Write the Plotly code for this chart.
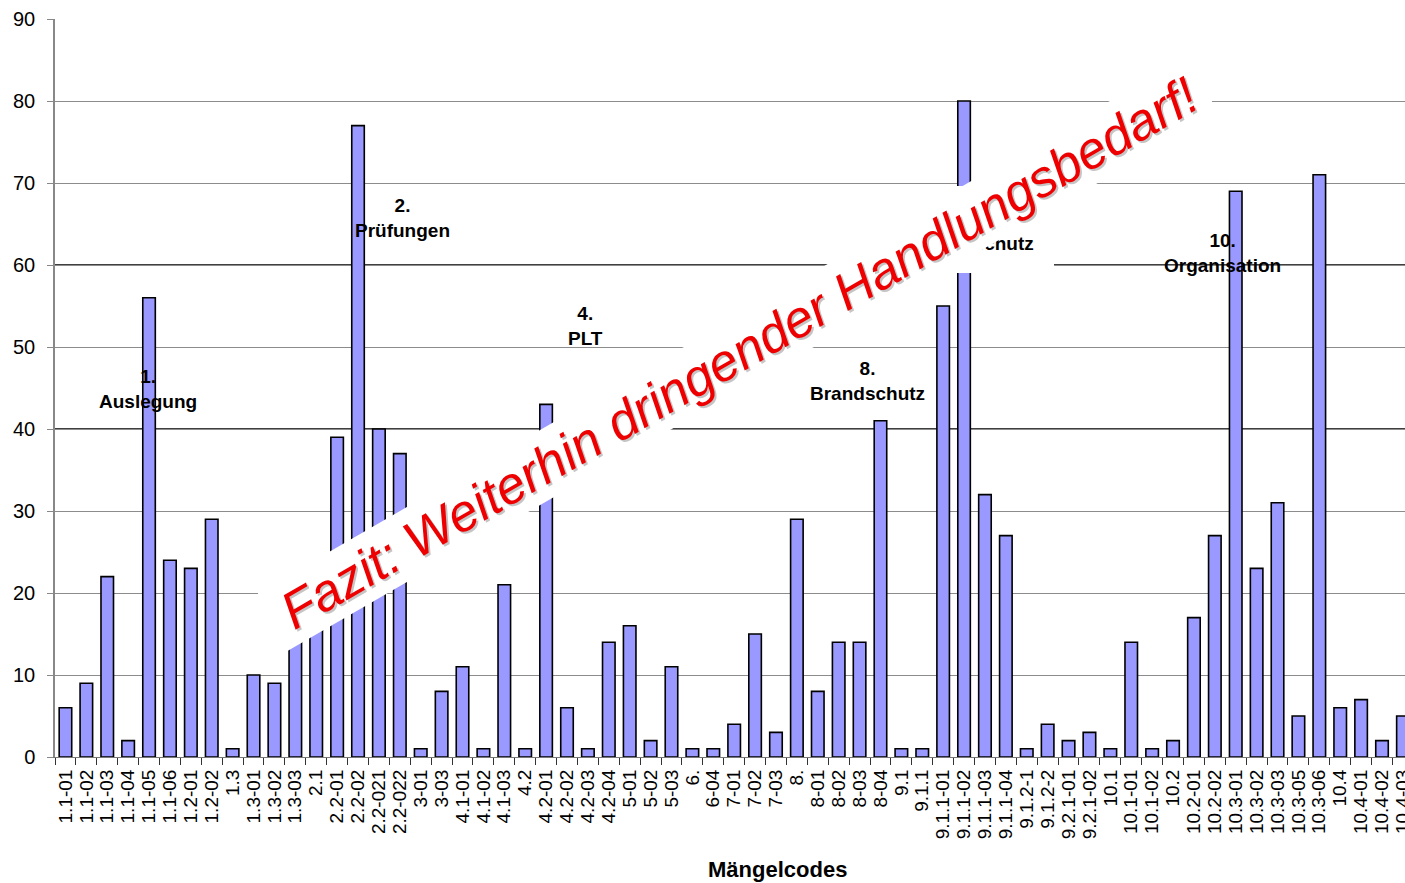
import plotly.graph_objects as go

# ---------------- data ----------------
codes = [
    "1.1-01", "1.1-02", "1.1-03", "1.1-04", "1.1-05", "1.1-06", "1.2-01", "1.2-02",
    "1.3", "1.3-01", "1.3-02", "1.3-03", "2.1", "2.2-01", "2.2-02", "2.2-021",
    "2.2-022", "3-01", "3-03", "4.1-01", "4.1-02", "4.1-03", "4.2", "4.2-01",
    "4.2-02", "4.2-03", "4.2-04", "5-01", "5-02", "5-03", "6.", "6-04",
    "7-01", "7-02", "7-03", "8.", "8-01", "8-02", "8-03", "8-04",
    "9.1", "9.1.1", "9.1.1-01", "9.1.1-02", "9.1.1-03", "9.1.1-04", "9.1.2-1", "9.1.2-2",
    "9.2.1-01", "9.2.1-02", "10.1", "10.1-01", "10.1-02", "10.2", "10.2-01", "10.2-02",
    "10.3-01", "10.3-02", "10.3-03", "10.3-05", "10.3-06", "10.4", "10.4-01", "10.4-02",
    "10.4-03",
]
counts = [
    6, 9, 22, 2, 56, 24, 23, 29,
    1, 10, 9, 16, 19, 39, 77, 40,
    37, 1, 8, 11, 1, 21, 1, 43,
    6, 1, 14, 16, 2, 11, 1, 1,
    4, 15, 3, 29, 8, 14, 14, 41,
    1, 1, 55, 80, 32, 27, 1, 4,
    2, 3, 1, 14, 1, 2, 17, 27,
    69, 23, 31, 5, 71, 6, 7, 2,
    5,
]
y_ticks = [0, 10, 20, 30, 40, 50, 60, 70, 80, 90]
dark_grid = [40, 60]

group_labels = [
    ("1.<br>Auslegung", 148, 389),
    ("2.<br>Prüfungen", 402, 218),
    ("4.<br>PLT", 585, 326),
    ("8.<br>Brandschutz", 867, 381),
    ("10.<br>Organisation", 1222, 253),
]
hidden_label = "9.<br>Arbeitsschutz"
x_title = "Mängelcodes"
banner_text = "Fazit: Weiterhin dringender Handlungsbedarf!"

# ---------------- layout geometry ----------------
W, H = 1405, 883
L, T, B, R = 55, 19, 126, 0
PW = W - L - R
PH = H - T - B


def px(x):
    return (x - L) / PW


def py(y):
    return (H - B - y) / PH


FONT = "Arial, Liberation Sans, sans-serif"

fig = go.Figure(
    go.Bar(
        x=codes,
        y=counts,
        width=0.6,
        marker=dict(color="#9999ff", line=dict(color="#000000", width=1.6)),
        showlegend=False,
    )
)

shapes = []
for v in dark_grid:
    shapes.append(dict(type="line", xref="paper", x0=0, x1=1, yref="y", y0=v, y1=v,
                       line=dict(color="#000000", width=1.3), layer="between"))

# label box of group 9 (mostly hidden by the banner)
shapes.append(dict(type="rect", xref="paper", yref="paper",
                   x0=px(888), x1=px(1054), y0=py(273), y1=py(186),
                   fillcolor="white", line=dict(width=0), layer="above",
                   label=dict(text=hidden_label, textposition="middle center",
                              font=dict(family=FONT, size=19, color="#000000", weight="bold"))))

# white banner band
band = [(258, 593), (1212, 42), (1212, 117), (258, 668)]
path = "M " + " L ".join(f"{px(a):.5f},{py(b):.5f}" for a, b in band) + " Z"
shapes.append(dict(type="path", xref="paper", yref="paper", path=path,
                   fillcolor="white", line=dict(width=0), layer="above"))

annotations = []
for txt, x, y in group_labels:
    annotations.append(dict(text=f"<b>{txt}</b>", x=px(x), y=py(y), xref="paper", yref="paper",
                            showarrow=False, xanchor="center", yanchor="middle",
                            font=dict(family=FONT, size=19, color="#000000")))

annotations.append(dict(text=f"<b>{x_title}</b>", x=px(777), y=py(870), xref="paper", yref="paper",
                        showarrow=False, xanchor="center", yanchor="middle",
                        font=dict(family=FONT, size=22, color="#000000")))

# banner text with a soft shadow
annotations.append(dict(text=f"<i>{banner_text}</i>", x=px(741), y=py(355), xref="paper", yref="paper",
                        showarrow=False, xanchor="center", yanchor="middle", textangle=-30,
                        font=dict(family=FONT, size=52, color="rgba(90,90,90,0.35)")))
annotations.append(dict(text=f"<i>{banner_text}</i>", x=px(739), y=py(353), xref="paper", yref="paper",
                        showarrow=False, xanchor="center", yanchor="middle", textangle=-30,
                        font=dict(family=FONT, size=52, color="#ee0000")))

fig.update_layout(
    width=W, height=H,
    margin=dict(l=L, r=R, t=T, b=B, pad=0),
    paper_bgcolor="white", plot_bgcolor="white",
    shapes=shapes, annotations=annotations,
    bargap=0.4,
    xaxis=dict(
        type="category", range=[-0.5, 64.1], tickmode="linear", tick0=0, dtick=1,
        tickson="boundaries", ticks="outside", ticklen=7, tickcolor="#333333",
        tickangle=-90, tickfont=dict(family=FONT, size=19, color="#000000"),
        showline=True, linecolor="#777777", linewidth=1, showgrid=False,
        ticklabelstandoff=4, automargin=False,
    ),
    yaxis=dict(
        range=[0, 90], tickmode="array", tickvals=y_ticks,
        ticks="outside", ticklen=6, tickcolor="#888888",
        tickfont=dict(family=FONT, size=20, color="#000000"),
        showline=True, linecolor="#888888", linewidth=1.5,
        showgrid=True, gridcolor="#8c8c8c", gridwidth=1, zeroline=False,
        ticklabelstandoff=8, automargin=False,
    ),
)

fig.write_html("out.html")
